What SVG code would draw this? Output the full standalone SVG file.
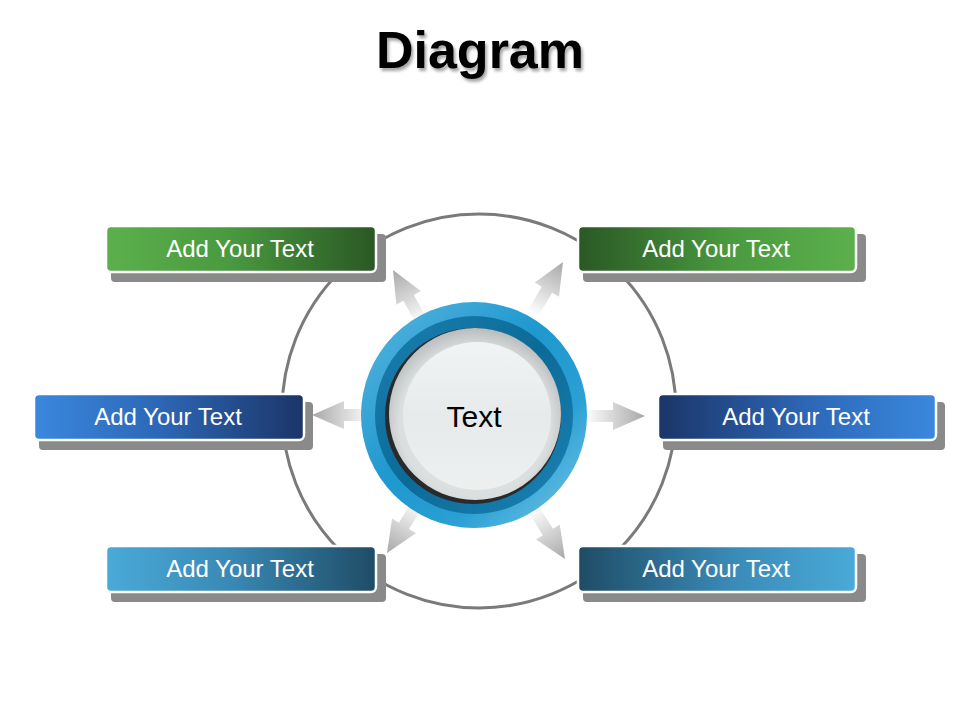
<svg xmlns="http://www.w3.org/2000/svg" width="960" height="720" viewBox="0 0 960 720">
<defs>
<style>
.lbl{font-family:"Liberation Sans",Arial,sans-serif;font-size:24px;fill:#fff;text-anchor:middle}
.shadow{fill:#8a8a8a}
.box{stroke:#fff;stroke-width:2.5}
.arrow{fill:url(#arrowG)}
</style>
<linearGradient id="gL" x1="0" y1="0" x2="1" y2="0"><stop offset="0" stop-color="#5cb04c"/><stop offset="0.45" stop-color="#4a9a40"/><stop offset="1" stop-color="#2a5824"/></linearGradient>
<linearGradient id="gR" x1="0" y1="0" x2="1" y2="0"><stop offset="0" stop-color="#2a5824"/><stop offset="0.55" stop-color="#4a9a40"/><stop offset="1" stop-color="#5cb04c"/></linearGradient>
<linearGradient id="bL" x1="0" y1="0" x2="1" y2="0"><stop offset="0" stop-color="#3a88de"/><stop offset="0.45" stop-color="#2d68b8"/><stop offset="1" stop-color="#1b3568"/></linearGradient>
<linearGradient id="bR" x1="0" y1="0" x2="1" y2="0"><stop offset="0" stop-color="#1b3568"/><stop offset="0.55" stop-color="#2d68b8"/><stop offset="1" stop-color="#3a88de"/></linearGradient>
<linearGradient id="cL" x1="0" y1="0" x2="1" y2="0"><stop offset="0" stop-color="#4aaad8"/><stop offset="0.45" stop-color="#3a8ab6"/><stop offset="1" stop-color="#1f4c66"/></linearGradient>
<linearGradient id="cR" x1="0" y1="0" x2="1" y2="0"><stop offset="0" stop-color="#1f4c66"/><stop offset="0.55" stop-color="#3a8ab6"/><stop offset="1" stop-color="#4aaad8"/></linearGradient>
<linearGradient id="arrowG" gradientUnits="userSpaceOnUse" x1="-60" y1="0" x2="0" y2="0"><stop offset="0" stop-color="#ffffff"/><stop offset="1" stop-color="#a8a8a8"/></linearGradient>
<linearGradient id="ringG" x1="0" y1="0" x2="1" y2="1"><stop offset="0" stop-color="#5ab6e0"/><stop offset="0.45" stop-color="#1e98ce"/><stop offset="0.7" stop-color="#2aa0d4"/><stop offset="1" stop-color="#7cc8e8"/></linearGradient>
<linearGradient id="ring2G" x1="0" y1="0" x2="1" y2="1"><stop offset="0" stop-color="#1a80b0"/><stop offset="0.5" stop-color="#0c6a98"/><stop offset="1" stop-color="#1a84b6"/></linearGradient>
<radialGradient id="btnG" cx="0.5" cy="0.55" r="0.55"><stop offset="0" stop-color="#eef0f0"/><stop offset="0.8" stop-color="#dadede"/><stop offset="1" stop-color="#b8bcbc"/></radialGradient>
<linearGradient id="innerG" x1="0" y1="0" x2="0" y2="1"><stop offset="0" stop-color="#f2f4f4"/><stop offset="0.5" stop-color="#e6eaea"/><stop offset="1" stop-color="#eef0f0"/></linearGradient>
<filter id="ts" x="-10%" y="-20%" width="120%" height="150%"><feGaussianBlur in="SourceAlpha" stdDeviation="1.5"/><feOffset dx="2" dy="3"/><feComponentTransfer><feFuncA type="linear" slope="0.35"/></feComponentTransfer><feMerge><feMergeNode/><feMergeNode in="SourceGraphic"/></feMerge></filter>
</defs>
<rect width="960" height="720" fill="#fff"/>
<text x="480" y="68" font-family="'Liberation Sans',Arial,sans-serif" font-weight="bold" font-size="52" text-anchor="middle" fill="#000" filter="url(#ts)">Diagram</text>

<g id="connectors">
<circle cx="479" cy="411" r="197" fill="none" stroke="#7a7a7a" stroke-width="3"/>
<path class="arrow" transform="translate(393,270) rotate(-119.2)" d="M0,0 L-32,-14 L-32,-6 L-75,-6 L-75,6 L-32,6 L-32,14 Z"/>
<path class="arrow" transform="translate(563,262) rotate(-59.8)" d="M0,0 L-32,-14 L-32,-6 L-75,-6 L-75,6 L-32,6 L-32,14 Z"/>
<path class="arrow" transform="translate(312,415) rotate(180)" d="M0,0 L-32,-14 L-32,-6 L-75,-6 L-75,6 L-32,6 L-32,14 Z"/>
<path class="arrow" transform="translate(645,416)" d="M0,0 L-32,-14 L-32,-6 L-75,-6 L-75,6 L-32,6 L-32,14 Z"/>
<path class="arrow" transform="translate(387,553) rotate(122)" d="M0,0 L-32,-14 L-32,-6 L-75,-6 L-75,6 L-32,6 L-32,14 Z"/>
<path class="arrow" transform="translate(565,559) rotate(57.7)" d="M0,0 L-32,-14 L-32,-6 L-75,-6 L-75,6 L-32,6 L-32,14 Z"/>
</g>

<g id="center">
<circle cx="474" cy="415" r="113" fill="url(#ringG)"/>
<circle cx="474" cy="415" r="99" fill="url(#ring2G)"/>
<circle cx="473" cy="416" r="88" fill="#2a2a2a"/>
<circle cx="475" cy="414" r="86" fill="url(#btnG)"/>
<circle cx="477" cy="416" r="74" fill="url(#innerG)"/>
<text x="474" y="427" font-family="'Liberation Sans',Arial,sans-serif" font-size="30" text-anchor="middle" fill="#000">Text</text>
</g>

<g id="n1">
<rect class="shadow" x="111" y="234" width="275" height="48" rx="4"/>
<rect class="box" x="106" y="226" width="270" height="46" rx="5" fill="url(#gL)"/>
<text class="lbl" x="240" y="257">Add Your Text</text>
</g>
<g id="n2">
<rect class="shadow" x="583" y="234" width="283" height="48" rx="4"/>
<rect class="box" x="578" y="226" width="278" height="46" rx="5" fill="url(#gR)"/>
<text class="lbl" x="716" y="257">Add Your Text</text>
</g>
<g id="n3">
<rect class="shadow" x="39" y="402" width="274" height="48" rx="4"/>
<rect class="box" x="34" y="394" width="270" height="46" rx="5" fill="url(#bL)"/>
<text class="lbl" x="168" y="425">Add Your Text</text>
</g>
<g id="n4">
<rect class="shadow" x="663" y="402" width="282" height="48" rx="4"/>
<rect class="box" x="658" y="394" width="278" height="46" rx="5" fill="url(#bR)"/>
<text class="lbl" x="796" y="425">Add Your Text</text>
</g>
<g id="n5">
<rect class="shadow" x="111" y="554" width="275" height="48" rx="4"/>
<rect class="box" x="106" y="546" width="270" height="46" rx="5" fill="url(#cL)"/>
<text class="lbl" x="240" y="577">Add Your Text</text>
</g>
<g id="n6">
<rect class="shadow" x="583" y="554" width="283" height="48" rx="4"/>
<rect class="box" x="578" y="546" width="278" height="46" rx="5" fill="url(#cR)"/>
<text class="lbl" x="716" y="577">Add Your Text</text>
</g>
</svg>
